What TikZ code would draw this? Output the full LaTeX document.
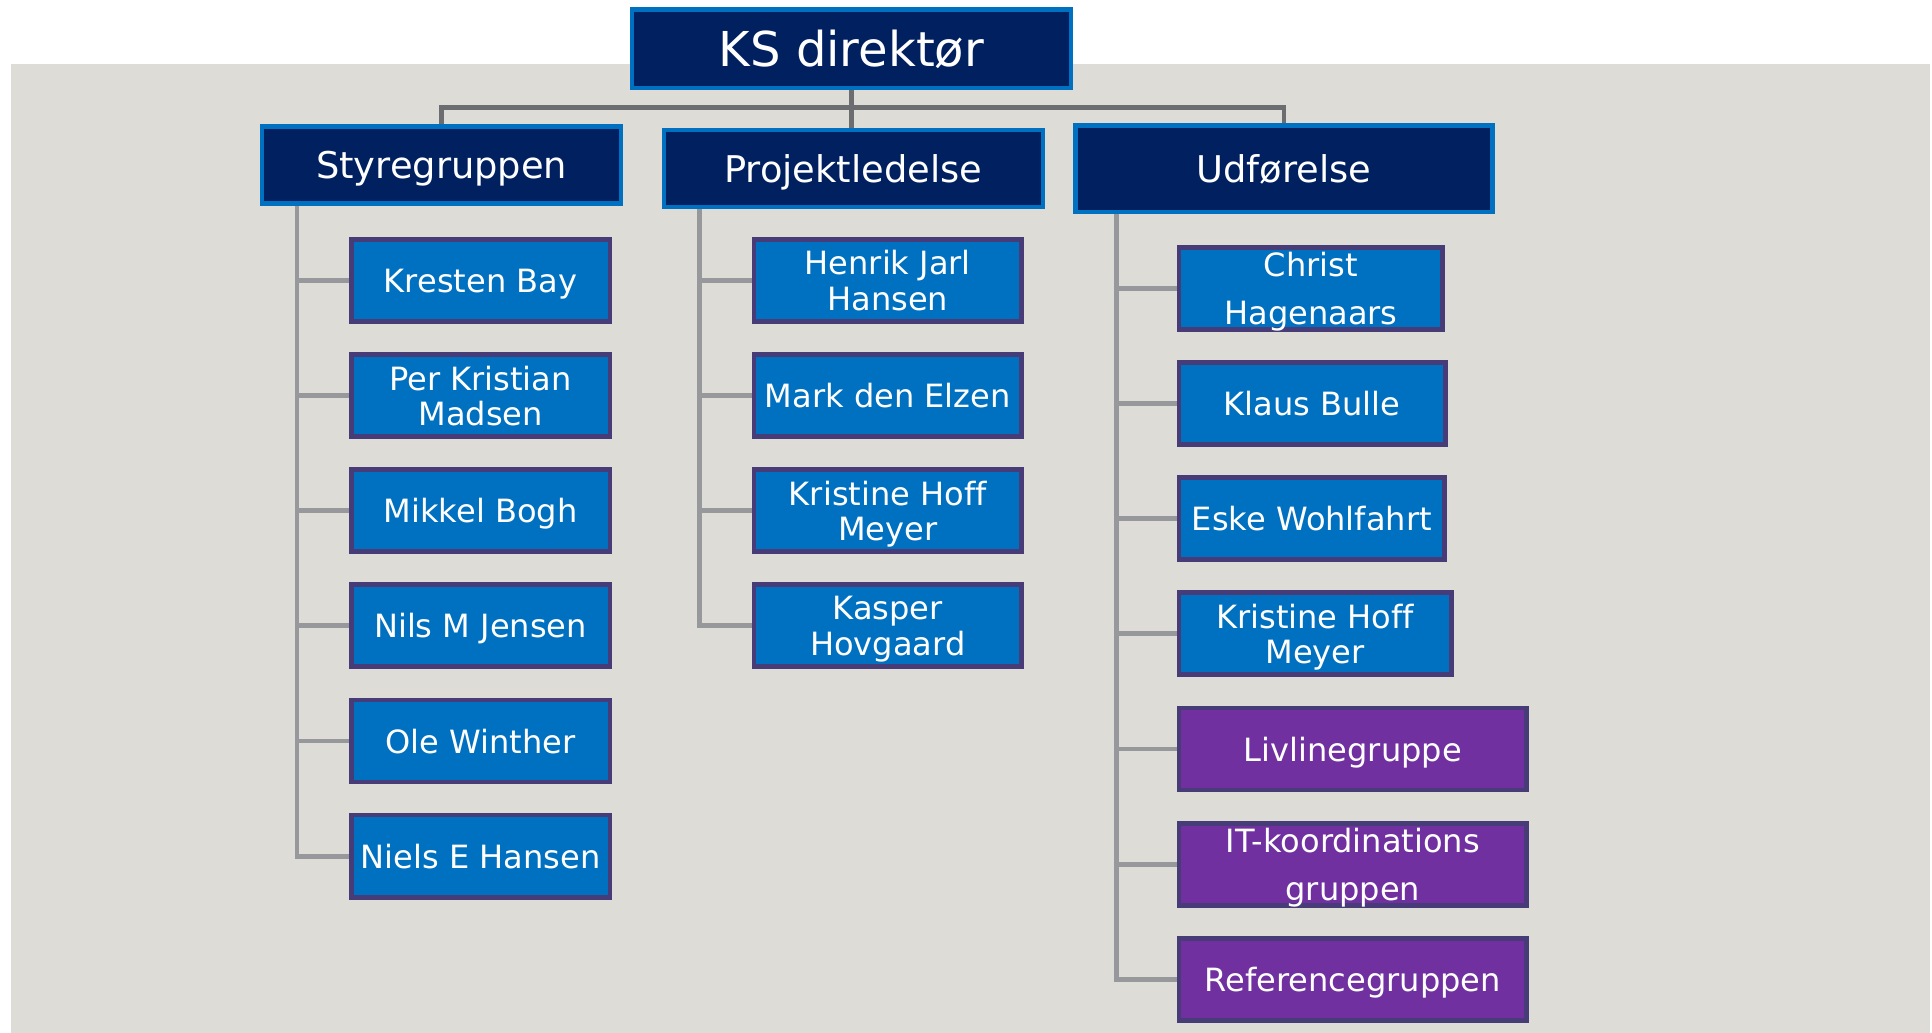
\documentclass[tikz,border=0pt]{standalone}
\usepackage{fontspec}
\setmainfont[Ligatures=CommonOff]{DejaVu Sans}
\usetikzlibrary{positioning}
\definecolor{navy}{HTML}{002060}
\definecolor{skyblue}{HTML}{0070C0}
\definecolor{plum}{HTML}{473C78}
\definecolor{grpviolet}{HTML}{7030A0}
\definecolor{canvas}{HTML}{DDDCD6}
\definecolor{bargray}{HTML}{6C6D71}
\definecolor{stemgray}{HTML}{97989B}
\tikzstyle{boss}=[draw=skyblue,fill=navy,line width=1pt,text=white,inner sep=0pt,text depth=0pt]
\tikzstyle{head}=[boss,font=\fontsize{8.5}{10}\selectfont]
\tikzstyle{member}=[draw=plum,fill=skyblue,line width=1.1pt,text=white,inner sep=0pt,text depth=0pt,
  align=center,minimum height=6.66mm,font=\fontsize{7.4}{8.1}\selectfont]
\tikzstyle{group}=[member,fill=grpviolet]
\tikzstyle{smember}=[member,minimum width=21mm]
\tikzstyle{pmember}=[member,minimum width=21.7mm]
\tikzstyle{bar}=[draw=bargray,line width=1.1pt]
\tikzstyle{stem}=[draw=stemgray,line width=1.1pt]

\begin{document}
\begin{tikzpicture}[x=0.1mm,y=-0.1mm,node distance=2.3mm]
\useasboundingbox (0,0) rectangle (1568,838);
\fill[canvas] (9,52) rectangle (1566,838);

\node[boss,font=\fontsize{11.1}{13}\selectfont,minimum width=35.65mm,minimum height=6.35mm] (ks) at (691,39.5) {KS direktør};
\node[head,minimum width=29.15mm,minimum height=6.25mm] (sty) at (358.5,134) {Styregruppen};
\node[head,minimum width=30.75mm,minimum height=6.25mm] (pro) at (692.5,137) {Projektledelse};
\node[head,minimum width=33.85mm,minimum height=7.05mm] (udf) at (1042,137) {Udførelse};

\node[smember] (s1) at (390,227.5) {Kresten Bay};
\node[smember] (s2) [below=of s1] {Per Kristian\\Madsen};
\node[smember] (s3) [below=of s2] {Mikkel Bogh};
\node[smember] (s4) [below=of s3] {Nils M Jensen};
\node[smember] (s5) [below=of s4] {Ole Winther};
\node[smember] (s6) [below=of s5] {Niels E Hansen};

\node[pmember] (p1) at (720.5,227.5) {Henrik Jarl\\Hansen};
\node[pmember] (p2) [below=of p1] {Mark den Elzen};
\node[pmember] (p3) [below=of p2] {Kristine Hoff\\Meyer};
\node[pmember] (p4) [below=of p3] {Kasper\\Hovgaard};

\node[member,anchor=west,minimum width=21.4mm,font=\fontsize{7.4}{11.2}\selectfont] (u1) at (955,234) {Christ\\Hagenaars};
\node[member,below=of u1.south west,anchor=north west,minimum width=21.6mm] (u2) {Klaus Bulle};
\node[member,below=of u2.south west,anchor=north west,minimum width=21.55mm] (u3) {Eske Wohlfahrt};
\node[member,below=of u3.south west,anchor=north west,minimum width=22.1mm] (u4) {Kristine Hoff\\Meyer};
\node[group,below=of u4.south west,anchor=north west,minimum width=28.2mm] (u5) {Livlinegruppe};
\node[group,below=of u5.south west,anchor=north west,minimum width=28.2mm,font=\fontsize{7.4}{11.2}\selectfont] (u6) {IT-koordinations\\gruppen};
\node[group,below=of u6.south west,anchor=north west,minimum width=28.2mm] (u7) {Referencegruppen};

\coordinate (hub) at (691,87);
\draw[bar] (sty.north) |- (hub) -| (udf.north);
\draw[bar] (ks.south) -- (ks.south |- pro.north);

\coordinate (tsty) at ([xshift=3mm]sty.south west);
\coordinate (tpro) at ([xshift=3.1mm]pro.south west);
\coordinate (tudf) at ([xshift=3.5mm]udf.south west);
\draw[stem] (tsty) |- (s6.west);
\draw[stem] (tpro) |- (p4.west);
\draw[stem] (tudf) |- (u7.west);
\foreach \n in {s1,s2,s3,s4,s5}
  \draw[stem] (\n.west) -- (\n.west -| tsty);
\foreach \n in {p1,p2,p3}
  \draw[stem] (\n.west) -- (\n.west -| tpro);
\foreach \n in {u1,u2,u3,u4,u5,u6}
  \draw[stem] (\n.west) -- (\n.west -| tudf);
\end{tikzpicture}
\end{document}
